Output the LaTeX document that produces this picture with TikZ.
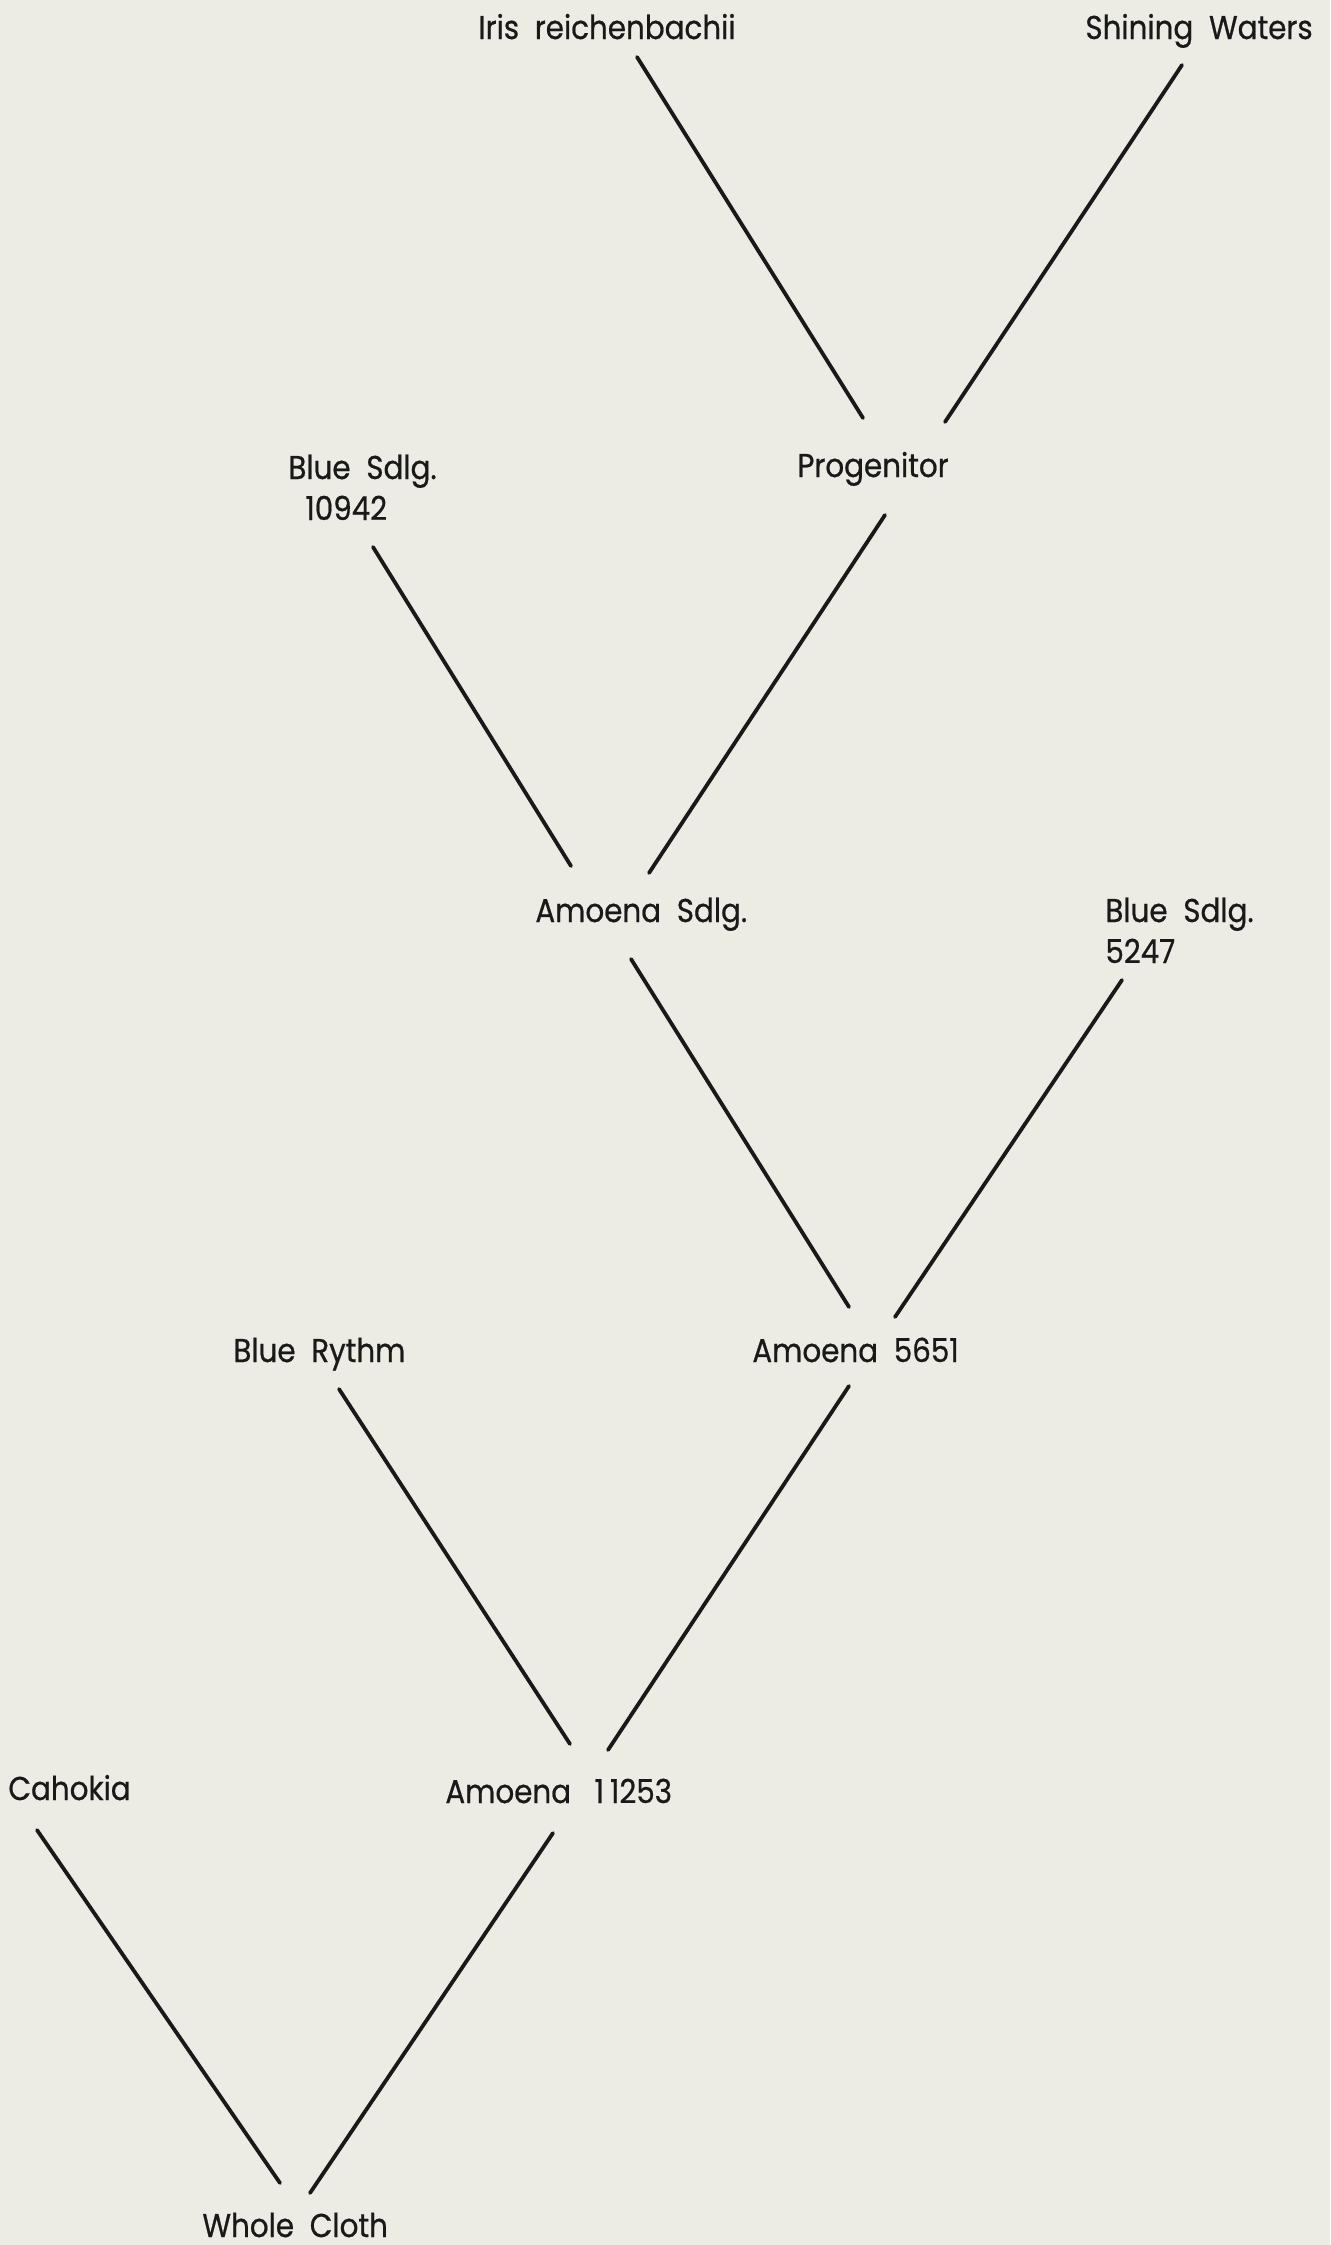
\documentclass[tikz,border=0pt]{standalone}
\usepackage{fontspec}
\setmainfont{Poppins}[FakeStretch=0.89,FakeBold=0.6]
\definecolor{paper}{RGB}{236,236,228}
\definecolor{ink}{RGB}{25,25,25}
\begin{document}
\begin{tikzpicture}[x=0.5pt,y=-0.5pt,
  lbl/.style={inner sep=0pt,anchor=base west,text=ink,font=\fontsize{16.5}{20.5}\selectfont,align=left},
  link/.style={draw=ink,line width=1.9pt,line cap=round}]
\fill[paper] (0,0) rectangle (1330,2245);
\useasboundingbox (0,0) rectangle (1330,2245);
\node[lbl] (iris) at (478,39) {Iris\ \ reichenbachii};
\node[lbl] (shining) at (1085,39) {Shining\ \ Waters};
\node[lbl] (prog) at (797,477) {Progenitor};
\node[lbl] (blueA) at (288,520) {Blue\ \ Sdlg.\\\hspace*{8.5pt}10942};
\node[lbl] (amoS) at (535,922) {Amoena\ \ Sdlg.};
\node[lbl] (blueB) at (1105,963) {Blue\ \ Sdlg.\\5247};
\node[lbl] (rythm) at (233,1362) {Blue\ \ Rythm};
\node[lbl] (a5651) at (752,1362) {Amoena\ \ 5651};
\node[lbl] (cahokia) at (8,1800) {Cahokia};
\node[lbl] (a11253) at (445,1803) {Amoena\ \ \ 1\kern3pt1253};
\node[lbl] (whole) at (202,2237) {Whole\ \ Cloth};
\draw[link] ([shift={(159,18)}]iris.base west) -- ([shift={(66,-59)}]prog.base west);
\draw[link] ([shift={(97,26)}]shining.base west) -- ([shift={(148,-55)}]prog.base west);
\draw[link] ([shift={(88,38)}]prog.base west) -- ([shift={(114,-49)}]amoS.base west);
\draw[link] ([shift={(85,27)}]blueA.base west) -- ([shift={(36,-56)}]amoS.base west);
\draw[link] ([shift={(96,37)}]amoS.base west) -- ([shift={(97,-55)}]a5651.base west);
\draw[link] ([shift={(17,17)}]blueB.base west) -- ([shift={(143,-45)}]a5651.base west);
\draw[link] ([shift={(106,27)}]rythm.base west) -- ([shift={(125,-59)}]a11253.base west);
\draw[link] ([shift={(97,24)}]a5651.base west) -- ([shift={(163,-53)}]a11253.base west);
\draw[link] ([shift={(29,30)}]cahokia.base west) -- ([shift={(78,-54)}]whole.base west);
\draw[link] ([shift={(108,30)}]a11253.base west) -- ([shift={(108,-44)}]whole.base west);
\end{tikzpicture}
\end{document}
